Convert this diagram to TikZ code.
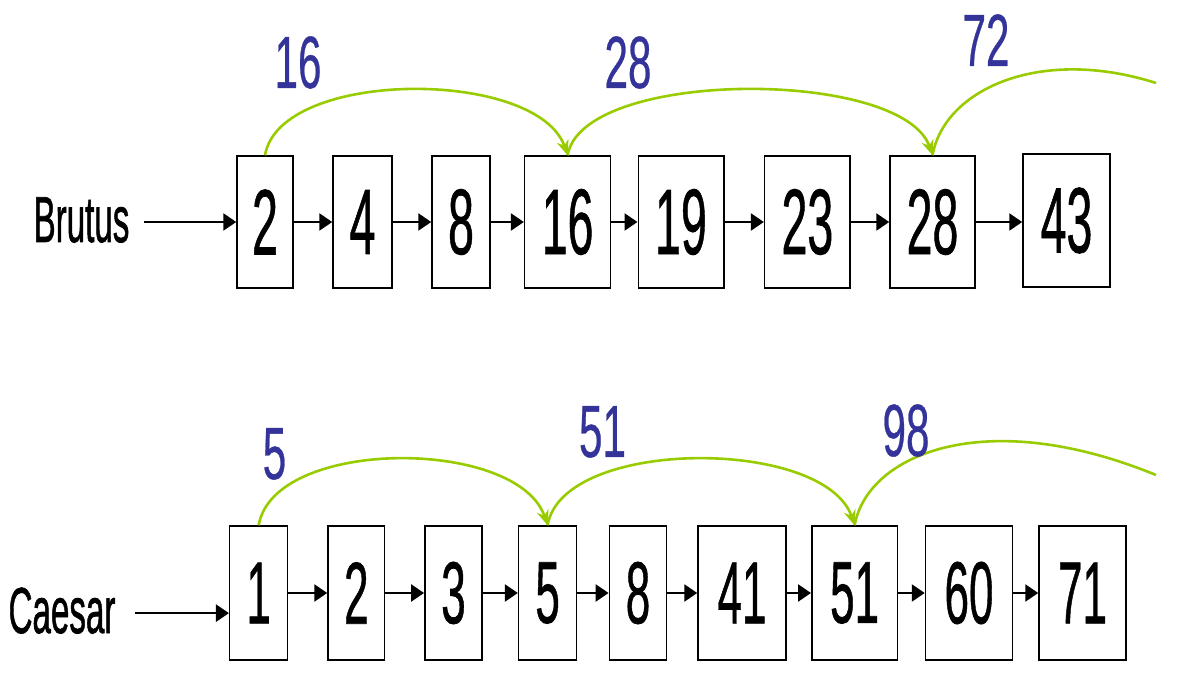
\documentclass[tikz,border=0pt]{standalone}
\usepackage{fontspec}
\setmainfont{Liberation Sans}
\newfontfamily\heavyfont{Liberation Sans}[FakeBold=0.9]
\newfontfamily\namefont{Liberation Sans}[FakeBold=1.3]
\newfontfamily\midfont{Liberation Sans}[FakeBold=0.6]
\usetikzlibrary{arrows.meta}
\definecolor{arcgreen}{RGB}{153,204,0}
\definecolor{lblblue}{RGB}{51,51,153}
\newcommand{\numtop}[1]{\scalebox{0.5}[1]{\heavyfont\fontsize{93}{93}\selectfont #1}}
\newcommand{\numbot}[1]{\scalebox{0.5}[1]{\heavyfont\fontsize{88}{88}\selectfont #1}}
\newcommand{\lbltxt}[1]{\scalebox{0.57}[1]{\midfont\fontsize{74}{74}\selectfont #1}}
\newcommand{\nametxt}[1]{\scalebox{0.51}[1]{\namefont\fontsize{65}{65}\selectfont #1}}
\tikzset{
  cell/.style={draw, line width=1.5pt, inner sep=0pt},
  link/.style={line width=2.5pt, -{Triangle[length=13pt,width=17pt]}},
  jump/.style={draw=arcgreen, line width=2.6pt, -{Stealth[length=15pt,width=12pt]}},
  skiplbl/.style={text=lblblue, inner sep=0pt, anchor=base},
  listname/.style={inner sep=0pt, anchor=base}
}
\begin{document}
\begin{tikzpicture}[x=1pt,y=-1pt]
\useasboundingbox (0,0) rectangle (1195,700);
% top row
\node[cell, minimum width=56pt, minimum height=132pt] (a2) at (265,222) {\numtop{2}};
\node[cell, minimum width=59pt, minimum height=132pt] (a4) at (362.5,222) {\numtop{4}};
\node[cell, minimum width=58pt, minimum height=132pt] (a8) at (461,222) {\numtop{8}};
\node[cell, minimum width=86pt, minimum height=132pt] (a16) at (567.6,222) {\numtop{16}};
\node[cell, minimum width=85.5pt, minimum height=132pt] (a19) at (681,222) {\numtop{19}};
\node[cell, minimum width=85.6pt, minimum height=132pt] (a23) at (807.4,222) {\numtop{23}};
\node[cell, minimum width=85pt, minimum height=132pt] (a28) at (932.5,222) {\numtop{28}};
\node[cell, minimum width=87pt, minimum height=133pt] (a43) at (1066.5,220.5) {\numtop{43}};
\node[listname] (brutus) at (81.5,242) {\nametxt{Brutus}};
\draw[link] ([xshift=14pt]a2.west -| brutus.east) -- (a2.west);
\draw[link] (a2.east) -- (a4.west);
\draw[link] (a4.east) -- (a8.west);
\draw[link] (a8.east) -- (a16.west);
\draw[link] (a16.east) -- (a19.west);
\draw[link] (a19.east) -- (a23.west);
\draw[link] (a23.east) -- (a28.west);
\draw[link] (a28.east) -- (a28.east -| a43.west);
\draw[jump] (a2.north) .. controls +(15,-87) and +(-30,-87) .. (a16.north);
\draw[jump] (a16.north) .. controls +(15,-87) and +(-30,-87) .. (a28.north);
\coordinate (e72) at (1156,83);
\draw[draw=arcgreen, line width=2.6pt] (a28.north) .. controls +(12,-66) and +(-116,-37) .. (e72);
\node[skiplbl] (l16) at (298,88) {\lbltxt{16}};
\node[skiplbl] (l28) at (628,88) {\lbltxt{28}};
\node[skiplbl] (l72) at (986,66) {\lbltxt{72}};
% bottom row
\node[cell, minimum width=58pt, minimum height=134pt] (b1) at (258.7,593) {\numbot{1}};
\node[cell, minimum width=56.6pt, minimum height=134pt] (b2) at (356.3,593) {\numbot{2}};
\node[cell, minimum width=57.4pt, minimum height=134pt] (b3) at (453.5,593) {\numbot{3}};
\node[cell, minimum width=58pt, minimum height=134pt] (b5) at (547.6,593) {\numbot{5}};
\node[cell, minimum width=57.3pt, minimum height=134pt] (b8) at (638,593) {\numbot{8}};
\node[cell, minimum width=88pt, minimum height=134pt] (b41) at (742,593) {\numbot{41}};
\node[cell, minimum width=85.7pt, minimum height=134pt] (b51) at (854.6,593) {\numbot{51}};
\node[cell, minimum width=87pt, minimum height=134pt] (b60) at (969,593) {\numbot{60}};
\node[cell, minimum width=87pt, minimum height=134pt] (b71) at (1082.5,593) {\numbot{71}};
\node[listname] (caesar) at (62,633) {\nametxt{Caesar}};
\coordinate (cs) at ([xshift=19pt,yshift=-2.5pt]caesar.east);
\draw[link] (cs) -- (cs -| b1.west);
\draw[link] (b1.east) -- (b2.west);
\draw[link] (b2.east) -- (b3.west);
\draw[link] (b3.east) -- (b5.west);
\draw[link] (b5.east) -- (b8.west);
\draw[link] (b8.east) -- (b41.west);
\draw[link] (b41.east) -- (b51.west);
\draw[link] (b51.east) -- (b60.west);
\draw[link] (b60.east) -- (b71.west);
\draw[jump] (b1.north) .. controls +(15,-88) and +(-30,-88) .. (b5.north);
\draw[jump] (b5.north) .. controls +(15,-88) and +(-30,-88) .. (b51.north);
\coordinate (e98) at (1156,475);
\draw[draw=arcgreen, line width=2.6pt] (b51.north) .. controls +(13,-71) and +(-171,-70) .. (e98);
\node[skiplbl] (l5) at (274.5,479) {\lbltxt{5}};
\node[skiplbl] (l51) at (602.5,457) {\lbltxt{51}};
\node[skiplbl] (l98) at (906,456) {\lbltxt{98}};
\end{tikzpicture}
\end{document}
